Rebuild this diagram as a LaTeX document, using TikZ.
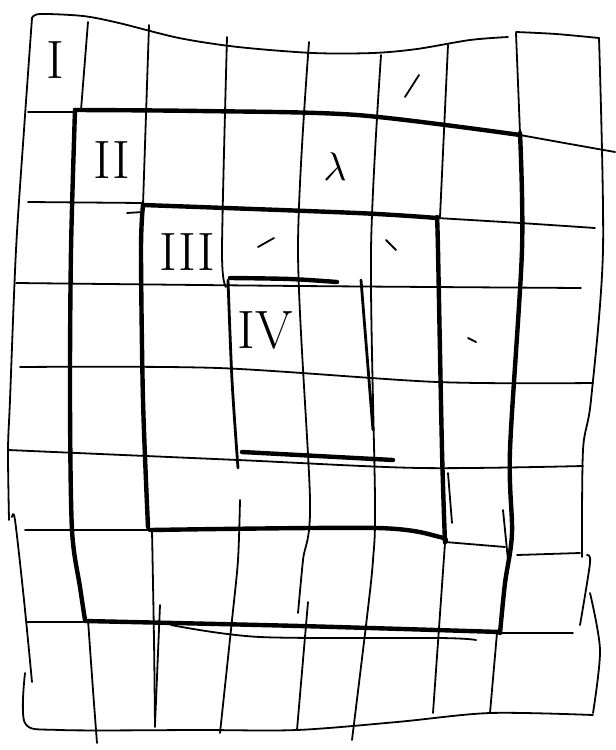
\documentclass[tikz,border=0pt]{standalone}
\begin{document}
\begin{tikzpicture}[x=1pt,y=-1pt,
  gridline/.style={line width=1.8pt, line cap=round, line join=round},
  boxline/.style={line width=4.4pt, line cap=round, line join=round},
  midline/.style={line width=2.8pt, line cap=round, line join=round},
  lab/.style={font=\fontsize{54}{54}\selectfont, inner sep=0pt}]
\useasboundingbox (0,0) rectangle (616,750);
\fill[white] (0,0) rectangle (616,750);
% outer frame
\draw[gridline] plot[smooth] coordinates {(32,18) (40,14) (83,16) (119,23) (179,38) (238,47) (313,53) (373,53) (417,49) (470,40) (508,37)};
\draw[gridline] plot[smooth] coordinates {(516,32) (556,34) (599,38)};
\draw[gridline] plot[smooth] coordinates {(32,18) (24,130) (16,250) (10,400) (8,450) (9,520)};
\draw[gridline] plot[smooth] coordinates {(12,517) (15,520) (24,600) (32,682)};
\draw[gridline] plot[smooth] coordinates {(25,673) (25,723) (60,730) (200,730) (297,730) (397,722) (490,713) (593,715)};
\draw[gridline] plot[smooth] coordinates {(599,38) (603,250) (591,400) (583,450) (582,557)};
\draw[gridline] plot[smooth] coordinates {(587,555) (590,563) (580,625)};
\draw[gridline] plot[smooth] coordinates {(590,593) (600,650) (593,713)};
% verticals
\draw[gridline] (88,22) -- (81,110);
\draw[gridline] plot[smooth] coordinates {(88,620) (93,690) (97,743)};
\draw[gridline] (149,25) -- (143,205);
\draw[gridline] plot[smooth] coordinates {(152,530) (154,640) (155,727)};
\draw[gridline] (160,605) -- (155,725);
\draw[gridline] plot[smooth] coordinates {(227,37) (222,250) (226,287)};
\draw[gridline] plot[smooth] coordinates {(240,500) (238,560) (232,620) (220,733)};
\draw[gridline] plot[smooth] coordinates {(309,42) (298,250) (310,500) (303,560) (298,613)};
\draw[gridline] (308,602) -- (297,730);
\draw[gridline] plot[smooth] coordinates {(381,55) (371,250) (375,500) (373,560) (367,617) (352,740)};
\draw[gridline] (448,45) -- (440,217);
\draw[gridline] (445,543) -- (433,713);
\draw[gridline] (448,473) -- (452,523);
\draw[gridline] (516,33) -- (520,133);
\draw[gridline] (503,510) -- (508,560);
\draw[gridline] (497,633) -- (490,713);
% horizontals
\draw[gridline] (28,112) -- (75,112);
\draw[gridline] plot[smooth] coordinates {(520,135) (570,144) (615,152)};
\draw[gridline] (28,202) -- (143,203);
\draw[gridline] (127,213) -- (143,212);
\draw[gridline] plot[smooth] coordinates {(437,218) (520,223) (595,228)};
\draw[gridline] plot[smooth] coordinates {(16,283) (300,286) (581,288)};
\draw[gridline] plot[smooth] coordinates {(20,367) (218,368) (437,382) (593,383)};
\draw[gridline] plot[smooth] coordinates {(8,450) (238,460) (420,468) (583,466)};
\draw[gridline] (25,530) -- (151,530);
\draw[gridline] (445,542) -- (505,547);
\draw[gridline] (517,555) -- (580,553);
\draw[gridline] (27,622) -- (83,622);
\draw[gridline] plot[smooth] coordinates {(171,625) (260,637) (440,638) (476,640)};
\draw[gridline] (498,633) -- (573,633);
% box II
\draw[boxline] plot[smooth] coordinates {(75,110) (200,111) (357,115) (520,135)};
\draw[boxline] plot[smooth] coordinates {(75,110) (71,250) (70,400) (72,530) (80,587) (85,620)};
\draw[boxline] plot[smooth] coordinates {(520,133) (522,250) (510,450) (512,533) (505,583) (500,633)};
\draw[boxline] plot[smooth] coordinates {(85,621) (300,626) (500,632)};
% box III
\draw[boxline] plot[smooth] coordinates {(143,205) (357,213) (437,218)};
\draw[boxline] plot[smooth] coordinates {(143,205) (141,250) (143,400) (148,527)};
\draw[boxline] plot[smooth] coordinates {(437,217) (438,250) (442,450) (445,542)};
\draw[boxline] plot[smooth] coordinates {(150,530) (377,528) (440,537) (445,542)};
% box IV
\draw[boxline] plot[smooth] coordinates {(230,278) (290,279) (337,282)};
\draw[midline] plot[smooth] coordinates {(228,280) (232,380) (238,468)};
\draw[midline] (361,280) -- (373,430);
\draw[boxline] (242,452) -- (393,460);
% marks
\draw[gridline] (405,97) -- (419,75);
\draw[gridline] (258,247) -- (274,238);
\draw[gridline] (386,240) -- (396,250);
\draw[gridline] (468,338) -- (476,342);
% labels
\node[lab] (l1) at (55,60) {I};
\node[lab] (l2) at (112,160) {II};
\node[lab] (l3) at (187,252) {III};
\node[lab] (l4) at (265,330) {IV};
\node[scale=4, inner sep=0pt] (lam) at (335,167) {$\lambda$};
\end{tikzpicture}
\end{document}
